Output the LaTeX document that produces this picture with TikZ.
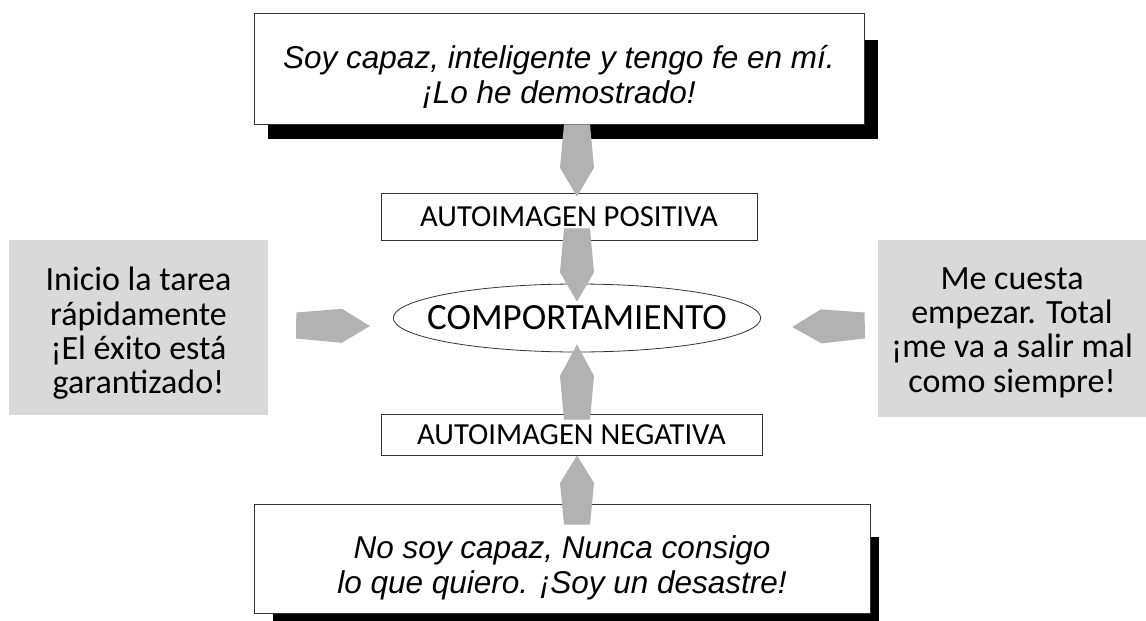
\documentclass[tikz,border=0pt]{standalone}
\usepackage{fontspec}
\setmainfont{Carlito}
\newfontfamily\talkfont{Liberation Sans}
\usetikzlibrary{shapes.geometric,calc,backgrounds}
\definecolor{boxgray}{HTML}{D9D9D9}
\definecolor{arrowgray}{HTML}{B2B2B2}
\definecolor{edgeink}{HTML}{333333}
\tikzset{
  talkbox/.style={draw=edgeink,fill=white,line width=0.9pt,inner sep=0pt},
  talktext/.style={align=center,inner sep=0pt,
                   font=\talkfont\itshape\fontsize{31.5}{35}\selectfont},
  imagebox/.style={draw=edgeink,fill=white,line width=0.9pt,inner sep=0pt,
                   font=\fontsize{30.6}{34}\selectfont},
  actbox/.style={fill=boxgray,inner sep=0pt},
  acttext/.style={align=center,inner sep=0pt,font=\fontsize{34}{34.3}\selectfont},
  coreell/.style={ellipse,draw=edgeink,fill=white,line width=0.8pt,
                  inner xsep=-20pt,inner ysep=0pt,
                  font=\fontsize{37}{40}\selectfont},
  shadowfill/.style={fill=black}
}
% thick grey arrow: base, tip, shoulder fraction
\newcommand{\fatarrow}[3]{%
  \path ($(#1)!#3!(#2)$) coordinate (sh);
  \fill[arrowgray] ($(#1)!13pt!90:(#2)$) -- ($(sh)!17pt!90:(#2)$) -- (#2)
    -- ($(sh)!17pt!-90:(#2)$) -- ($(#1)!13pt!-90:(#2)$) -- cycle;
}

\begin{document}
\begin{tikzpicture}[x=1pt,y=-1pt]
  \useasboundingbox (0,0) rectangle (1146,621);

  % what one tells oneself
  \node[talkbox,minimum width=610pt,minimum height=111pt] (good) at (559,68.5) {};
  \node[talktext] (goodtxt) at ($(good)+(0,8)$)
    {Soy capaz, inteligente y tengo fe en mí.\\¡Lo he demostrado!};
  \node[talkbox,minimum width=616pt,minimum height=109pt] (bad) at (562,558.5) {};
  \node[talktext] (badtxt) at ($(bad)+(0,9)$)
    {No soy capaz, Nunca consigo\\lo que quiero. ¡Soy un desastre!};

  % self image and behaviour
  \node[imagebox,minimum width=376pt,minimum height=47pt] (pos) at (569,216.5) {AUTOIMAGEN POSITIVA};
  \node[imagebox,minimum width=381pt,minimum height=41pt] (neg) at (571.5,434.5) {AUTOIMAGEN NEGATIVA};
  \node[coreell,minimum height=68pt] (core) at (577,318) {COMPORTAMIENTO};

  % outcomes
  \node[actbox,minimum width=259pt,minimum height=175pt] (doit) at (138.5,327.5) {};
  \node[acttext] (doittxt) at ($(doit)+(0,6)$)
    {Inicio la tarea\\rápidamente\\¡El éxito está\\garantizado!};
  \node[actbox,minimum width=268pt,minimum height=177pt] (delay) at (1012,328.5) {};
  \node[acttext] (delaytxt) at ($(delay)+(0,4)$)
    {Me cuesta\\empezar. Total\\¡me va a salir mal\\como siempre!};

  \begin{scope}[on background layer]
    \fill[shadowfill] ($(good.south west)+(14,15)$) rectangle ($(good.north east)+(14,27)$);
    \fill[shadowfill] ($(bad.south west)+(19,8)$) rectangle ($(bad.north east)+(9,33)$);
  \end{scope}

  % arrow ends
  \coordinate (b1) at (good.south -| core);
  \coordinate (t1) at ($(pos.north -| core)+(0,4)$);
  \coordinate (b2) at ($(pos.south -| core)+(0,-12)$);
  \coordinate (t2) at ($(core.north)+(0,18)$);
  \coordinate (b3) at ($(neg.north -| core)+(0,6)$);
  \coordinate (t3) at ($(core.south)+(0,-8)$);
  \coordinate (b4) at ($(bad.north -| core)+(0,21)$);
  \coordinate (t4) at (neg.south -| core);
  \coordinate (b5) at ($(doit.east)+(28,-2)$);
  \coordinate (t5) at ($(core.west)+(-23,8)$);
  \coordinate (b6) at ($(delay.west)+(-13,-3)$);
  \coordinate (t6) at ($(core.east)+(31,9)$);

  \fatarrow{b1}{t1}{0.6}
  \fatarrow{b2}{t2}{0.6}
  \fatarrow{b3}{t3}{0.58}
  \fatarrow{b4}{t4}{0.6}
  \fatarrow{b5}{t5}{0.62}
  \fatarrow{b6}{t6}{0.6}
\end{tikzpicture}
\end{document}
